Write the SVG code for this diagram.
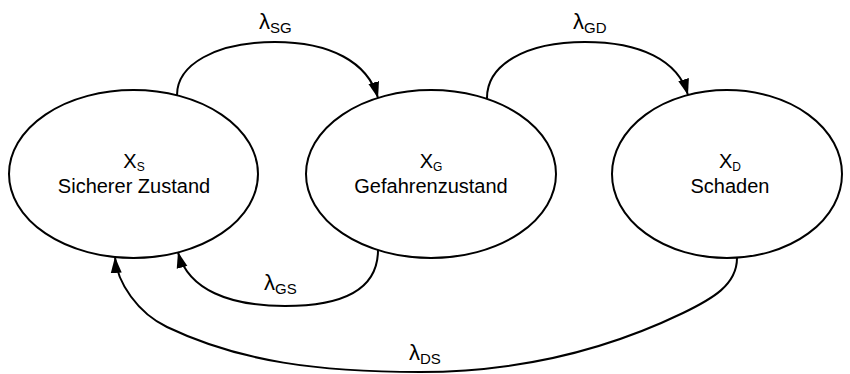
<svg xmlns="http://www.w3.org/2000/svg" width="850" height="374" viewBox="0 0 850 374">
  <style>
    .state { fill: #ffffff; stroke: #000000; stroke-width: 2; }
    .label { font-family: "Liberation Sans", Arial, sans-serif; font-size: 20px; fill: #000000; }
    .sub { font-size: 12px; }
    .rate { font-family: "Liberation Sans", Arial, sans-serif; font-size: 22px; fill: #000000; }
    .rsub { font-size: 15px; }
    .edge { fill: none; stroke: #000000; stroke-width: 2; marker-end: url(#arrow); }
  </style>
  <defs>
    <marker id="arrow" markerUnits="userSpaceOnUse" markerWidth="17" markerHeight="12" refX="16" refY="6" orient="auto">
      <path d="M0,0.5 L16,6 L0,11.5 z" fill="#000000"/>
    </marker>
  </defs>

  <rect width="850" height="374" fill="#ffffff"/>

  <!-- states -->
  <g id="state-safe">
    <ellipse class="state" cx="133.5" cy="174" rx="124.5" ry="84"/>
    <text class="label" x="134" y="168" text-anchor="middle">X<tspan class="sub" dy="3">S</tspan></text>
    <text class="label" x="134" y="193" text-anchor="middle">Sicherer Zustand</text>
  </g>
  <g id="state-hazard">
    <ellipse class="state" cx="431" cy="174" rx="125" ry="84"/>
    <text class="label" x="431" y="168" text-anchor="middle">X<tspan class="sub" dy="3">G</tspan></text>
    <text class="label" x="431" y="193" text-anchor="middle">Gefahrenzustand</text>
  </g>
  <g id="state-damage">
    <ellipse class="state" cx="727" cy="174" rx="115" ry="84"/>
    <text class="label" x="730" y="168" text-anchor="middle">X<tspan class="sub" dy="3">D</tspan></text>
    <text class="label" x="730" y="193" text-anchor="middle">Schaden</text>
  </g>

  <!-- transitions -->
  <g id="transitions">
    <path class="edge" d="M177,95 C177,65 215,42 275,42 C330,42 368,62 378,98"/>
    <path class="edge" d="M487,98 C487,65 525,42 585,42 C640,42 678,60 688,95"/>
    <path class="edge" d="M378,250 C378,285 350,306 285,306 C230,306 188,290 178,252"/>
    <path class="edge" d="M737,258 C737,285 712,299 683,313 C654,327 560,372 420,372 C320,372 240,362 167,327 C138,313 117,283 115,257"/>
    <text class="rate" x="259" y="29">λ<tspan class="rsub" dy="4">SG</tspan></text>
    <text class="rate" x="573" y="29">λ<tspan class="rsub" dy="4">GD</tspan></text>
    <text class="rate" x="264" y="290">λ<tspan class="rsub" dy="4">GS</tspan></text>
    <text class="rate" x="409" y="360">λ<tspan class="rsub" dy="4">DS</tspan></text>
  </g>
</svg>
